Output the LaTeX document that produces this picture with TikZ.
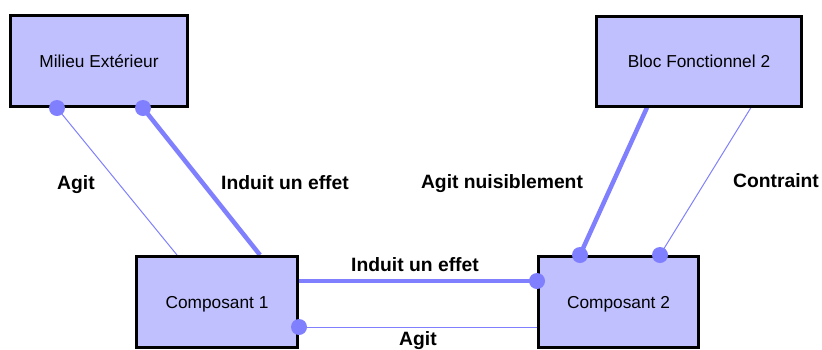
\documentclass[tikz,border=0pt]{standalone}
\usepackage{fontspec}
\setmainfont{Liberation Sans}
\pgfdeclarelayer{background}
\pgfsetlayers{background,main}
\definecolor{boxfill}{RGB}{192,192,255}
\definecolor{linkcol}{RGB}{128,128,255}
\tikzset{
  box/.style={draw=black, line width=3pt, fill=boxfill, rectangle, inner sep=0pt,
    font=\fontsize{17.3}{20}\selectfont, text depth=0pt},
  lbl/.style={inner sep=0pt, anchor=base, font=\fontsize{19.3}{22}\selectfont\bfseries},
  thin link/.style={draw=linkcol, line width=1pt},
  thick link/.style={draw=linkcol, line width=4.5pt},
  dot/.style={fill=linkcol, draw=none, circle, minimum size=16pt, inner sep=0pt}
}
\begin{document}
\begin{tikzpicture}[x=1pt,y=-1pt]
\useasboundingbox (0,0) rectangle (822,349);
% boxes
\node[box, minimum width=177pt, minimum height=91pt] (mil) at (99,61) {Milieu Extérieur};
\node[box, minimum width=205pt, minimum height=90pt] (bloc) at (699,61) {Bloc Fonctionnel 2};
\node[box, minimum width=161pt, minimum height=91pt] (c1) at (217,302) {Composant 1};
\node[box, minimum width=160pt, minimum height=91pt] (c2) at (618.5,302) {Composant 2};
% attachment points
\coordinate (m1) at (mil.south -| 57,0);
\coordinate (m2) at (mil.south -| 143,0);
\coordinate (a1) at (c1.north -| 177,0);
\coordinate (a2) at (c1.north -| 260,0);
\coordinate (b1) at (bloc.south -| 647,0);
\coordinate (b2) at (bloc.south -| 751,0);
\coordinate (d1) at (c2.north -| 580,0);
\coordinate (d2) at (c2.north -| 660,0);
\coordinate (r1) at (c1.east |- 0,281);
\coordinate (r2) at (c1.east |- 0,327);
\coordinate (l1) at (c2.west |- 0,281);
\coordinate (l2) at (c2.west |- 0,327);
% links (behind boxes)
\begin{pgfonlayer}{background}
\path[thin link] (m1) -- (a1);
\path[thick link] (m2) -- (a2);
\path[thick link] (b1) -- (d1);
\path[thin link] (b2) -- (d2);
\path[thick link] (r1) -- (l1);
\path[thin link] (r2) -- (l2);
\end{pgfonlayer}
% dots
\node[dot] (dm1) at (m1) {};
\node[dot] (dm2) at (m2) {};
\node[dot] (dd1) at (d1) {};
\node[dot] (dd2) at (d2) {};
\node[dot] (dl1) at (l1) {};
\node[dot] (dr2) at (r2) {};
% labels
\node[lbl] (t1) at (76,189) {Agit};
\node[lbl] (t2) at (285,189) {Induit un effet};
\node[lbl] (t3) at (502,188) {Agit nuisiblement};
\node[lbl] (t4) at (776,187) {Contraint};
\node[lbl] (t5) at (415,271) {Induit un effet};
\node[lbl] (t6) at (418,345) {Agit};
\end{tikzpicture}
\end{document}
